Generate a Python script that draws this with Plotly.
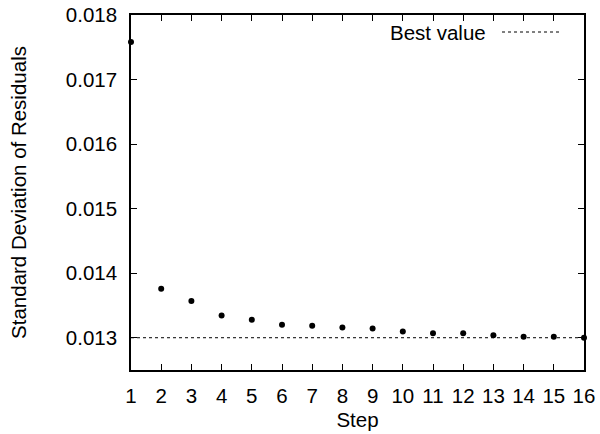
import plotly.graph_objects as go

steps = list(range(1, 17))
std_resid = [0.01758, 0.01376, 0.01357, 0.013345, 0.01328, 0.0132, 0.013186, 0.01316,
             0.013144, 0.013097, 0.01307, 0.01307, 0.01304, 0.013015, 0.013015, 0.0130]
best_value = 0.0130
y_ticks = [0.013, 0.014, 0.015, 0.016, 0.017, 0.018]

FONT = "Liberation Sans, Arial, Helvetica, sans-serif"
FS = 20.5

fig = go.Figure()

# horizontal reference at the best value
fig.add_trace(go.Scatter(
    x=[steps[0], steps[-1]], y=[best_value, best_value],
    mode="lines", line=dict(color="black", width=1, dash="dot"),
    showlegend=False, hoverinfo="skip", cliponaxis=False,
))

fig.add_trace(go.Scatter(
    x=steps, y=std_resid, mode="markers",
    marker=dict(color="black", size=6),
    showlegend=False, cliponaxis=False,
))

# key: label on the left, line sample on the right
key_y = 1 - (32 - 15) / 355
fig.update_layout(
    annotations=[dict(
        xref="paper", yref="paper", x=(488 - 131) / 453, y=key_y,
        xanchor="right", yanchor="middle", text="Best value", showarrow=False,
        font=dict(family=FONT, size=FS, color="black"),
    )],
    shapes=[dict(
        type="line", xref="paper", yref="paper",
        x0=(502 - 131) / 453, x1=(560 - 131) / 453,
        y0=key_y, y1=key_y,
        line=dict(color="black", width=1, dash="dot"),
    )],
)

axis_common = dict(
    showgrid=False, zeroline=False, showline=True, linecolor="black", linewidth=1.5,
    mirror="ticks", ticks="inside", ticklen=6, tickwidth=1, tickcolor="black",
    tickfont=dict(family=FONT, size=FS, color="black"), automargin=False,
)

fig.update_xaxes(
    range=[1, 16], tickvals=steps, ticktext=[str(s) for s in steps],
    ticklabelstandoff=7,
    title=dict(text="Step", font=dict(family=FONT, size=FS, color="black"), standoff=6),
    **axis_common,
)
fig.update_yaxes(
    range=[0.0125, 0.018], tickvals=y_ticks, ticktext=[f"{v:.3f}" for v in y_ticks],
    ticklabelstandoff=8,
    title=dict(text="Standard Deviation of Residuals", font=dict(family=FONT, size=FS, color="black"), standoff=34),
    **axis_common,
)

fig.update_layout(
    width=600, height=434,
    margin=dict(l=131, r=16, t=15, b=64),
    plot_bgcolor="white", paper_bgcolor="white",
)

fig.write_html("out.html")
